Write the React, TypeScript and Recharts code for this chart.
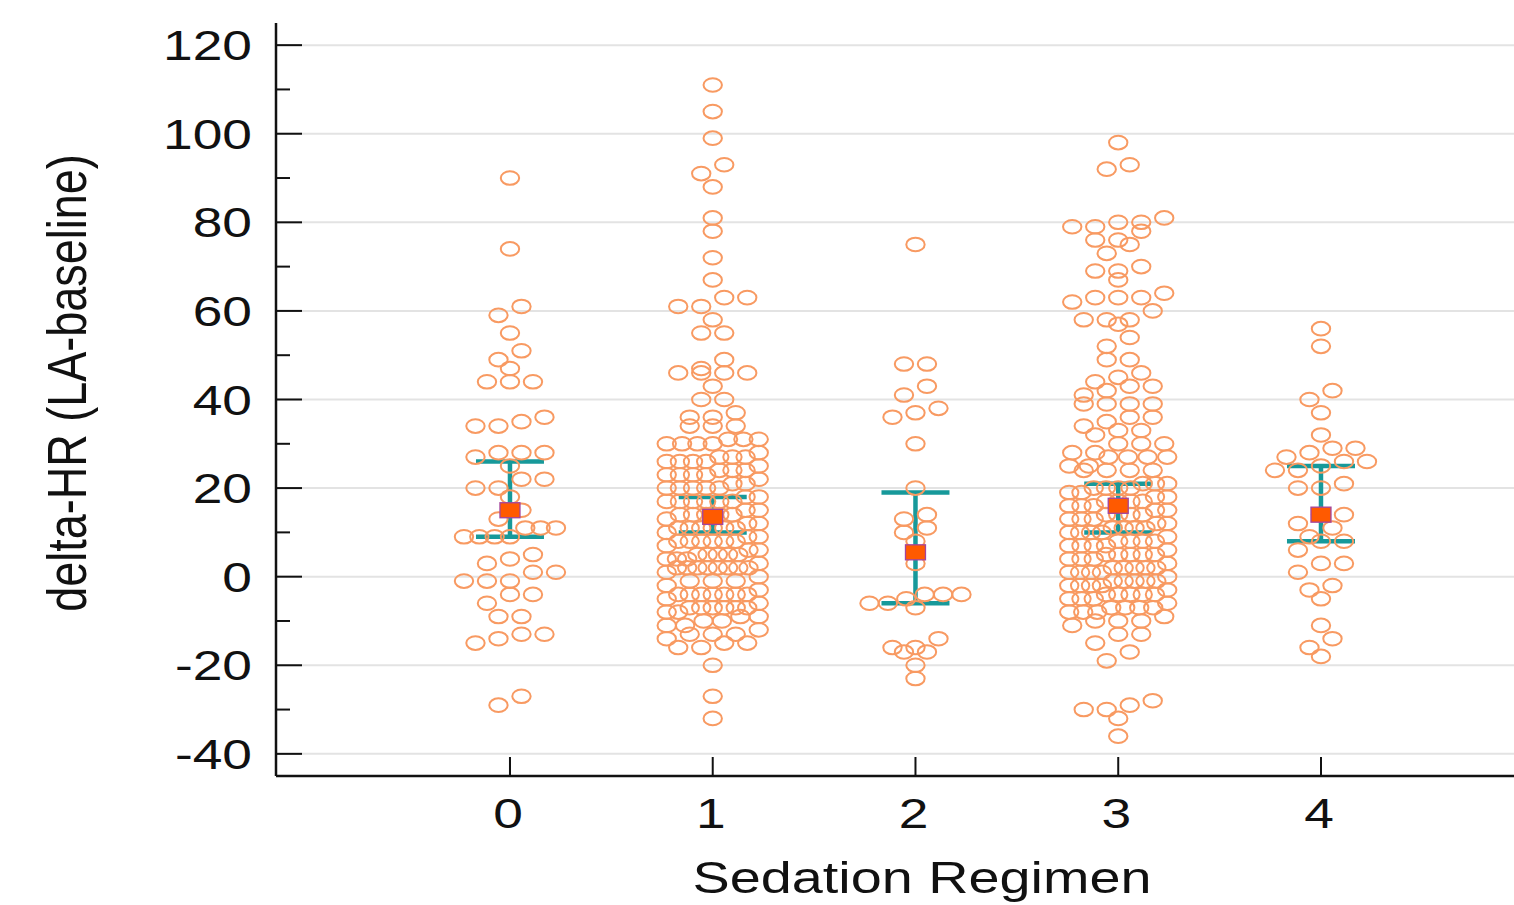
import React from "react";
import { ScatterChart, Scatter, XAxis, YAxis, CartesianGrid, ErrorBar } from "recharts";

const groups = [0, 1, 2, 3, 4];

// delta-HR values, one list per sedation regimen
const group0 = [90, 74, 61, 59, 55, 51, 49, 47, 44, 44, 44, 36, 35, 34, 34, 28, 28, 28, 27, 25, 22, 22, 20, 20, 18, 15, 13, 11, 11, 11, 9, 9, 9, 9, 5, 4, 3, 1, 1, -1, -1, -1, -4, -4, -6, -9, -9, -13, -13, -14, -15, -27, -29];

const group1 = [
  111, 105, 99, 93, 91, 88, 81, 78, 72, 67, 63, 63, 61, 61, 58, 55, 55, 49, 47, 46, 46, 46, 46, 43, 40, 40, 37, 36, 36, 34, 34, 34,
  31, 31, 31, 30, 30, 30, 30,
  28, 27, 27, 27, 26, 26, 26, 26,
  25, 24, 24, 24, 23, 23, 23, 23,
  22, 21, 21, 20, 20, 20, 20, 20,
  18, 18, 17, 17, 17, 17, 17, 17,
  15, 15, 14, 14, 14, 14, 14, 13,
  12, 12, 11, 11, 11, 11, 11, 11, 10,
  9, 9, 8, 8, 8, 8, 8, 8, 7,
  6, 6, 5, 5, 5, 5, 5, 4, 4, 4,
  3, 2, 2, 2, 2, 2, 2, 2, 2, 1,
  0, -1, -1, -1, -2,
  -3, -4, -4, -4, -4, -4, -4, -4, -5,
  -6, -7, -7, -7, -7, -7, -7, -8, -8,
  -9, -9, -10, -10, -11, -11,
  -12, -13, -13, -13, -14,
  -15, -15, -16, -16,
  -20, -27, -32,
];

const group2 = [75, 48, 48, 43, 41, 38, 37, 36, 30, 20, 14, 13, 11, 10, 8, 3, -4, -4, -4, -5, -6, -6, -7, -14, -16, -16, -17, -17, -20, -23];

const group3 = [
  98, 93, 92, 81, 80, 80, 79, 79, 78, 76, 76, 75, 73, 70, 69, 69, 67, 64, 63, 63, 63, 62, 60, 58, 58, 58, 57, 54, 52, 49, 49, 46, 45, 44, 43, 43, 42, 41, 39, 39, 39, 39, 36, 36, 35, 34, 33, 33, 32, 30, 30, 30, 28, 28, 27, 27, 27, 27, 25, 25, 24, 24, 24, 24,
  21, 21, 21, 20, 20, 20, 20, 19, 19,
  18, 18, 17, 17, 17, 17, 16, 16, 16,
  15, 15, 14, 14, 14, 14, 13, 13, 13,
  12, 12, 11, 11, 11, 11, 10, 10, 10, 10,
  9, 8, 8, 8, 8, 7, 7, 7, 7,
  6, 5, 5, 5, 5, 5, 4, 4, 4,
  3, 2, 2, 2, 2, 2, 1, 1, 1, 1,
  0, -1, -1, -1, -1, -1, -2, -2, -2, -2,
  -3, -4, -4, -4, -4, -4, -5, -5, -5,
  -6, -7, -7, -7, -7, -8, -8, -8,
  -9, -10, -10, -10, -11,
  -13, -13, -15, -17, -19,
  -28, -29, -30, -30, -32, -36,
];

const group4 = [56, 52, 42, 40, 37, 32, 29, 29, 28, 27, 26, 26, 25, 24, 24, 21, 20, 20, 14, 14, 12, 11, 9, 8, 8, 6, 3, 3, 1, -2, -3, -5, -11, -14, -16, -18];

const medians = [15, 13.5, 5.5, 16, 14];
const lowerCI = [9, 10, -6, 10, 8];
const upperCI = [26, 18, 19, 21, 25];

const yTicks = [-40, -30, -20, -10, 0, 10, 20, 30, 40, 50, 60, 70, 80, 90, 100, 110, 120];
const yGrid = [-40, -20, 0, 20, 40, 60, 80, 100, 120];

// layout
const W = 1514;
const H = 905;
const LEFT = 276;
const TOP = 23;
const BOTTOM = 776;
const X_DOMAIN: [number, number] = [-1.154, 4.952];
const Y_DOMAIN: [number, number] = [-45, 125];
const STRETCH = 1.24;
const FONT = '"Liberation Sans", Arial, sans-serif';
const DOT = "#f89a62";
const TEAL = "#17999a";

const pxPerCat = (W - LEFT) / (X_DOMAIN[1] - X_DOMAIN[0]);

// simple dot-plot layout: values close together share a row, spread round the category
function swarm(values: number[], group: number, maxWidth: number) {
  const sorted = [...values].sort((a, b) => b - a);
  const rows: number[][] = [];
  for (const v of sorted) {
    const row = rows[rows.length - 1];
    if (row && row[0] - v <= 2.5) row.push(v);
    else rows.push([v]);
  }
  const pts: { x: number; y: number }[] = [];
  rows.forEach((row) => {
    const asc = [...row].sort((a, b) => a - b);
    const n = asc.length;
    const step = n > 1 ? Math.min(23, maxWidth / (n - 1)) : 0;
    asc.forEach((v, i) => {
      pts.push({ x: group + ((i - (n - 1) / 2) * step) / pxPerCat, y: v });
    });
  });
  return pts;
}

const allGroups = [group0, group1, group2, group3, group4];
const dots = allGroups.flatMap((vals, i) => swarm(vals, groups[i], i === 3 ? 98 : 92));

const summary = groups.map((g, i) => ({
  x: g,
  y: medians[i],
  err: [medians[i] - lowerCI[i], upperCI[i] - medians[i]],
}));

const Ring = (props: any) => {
  const { cx, cy } = props;
  return <ellipse cx={cx} cy={cy} rx={9.2} ry={6.8} fill="none" stroke={DOT} strokeWidth={2} />;
};

const MedianBox = (props: any) => {
  const { cx, cy } = props;
  return <rect x={cx - 10} y={cy - 7.5} width={20} height={15} fill="#ff5a00" stroke="#a4449c" strokeWidth={1.3} />;
};

const YTick = (props: any) => {
  const { y, payload } = props;
  const major = payload.value % 20 === 0;
  return (
    <g>
      <line x1={LEFT} x2={LEFT + (major ? 26 : 14)} y1={y} y2={y} stroke="#111" strokeWidth={2} />
      {major && (
        <text
          transform={`translate(${LEFT - 24},${y + 15}) scale(${STRETCH},1)`}
          textAnchor="end"
          fontFamily={FONT}
          fontSize={43}
          fill="#111"
        >
          {payload.value}
        </text>
      )}
    </g>
  );
};

const XTick = (props: any) => {
  const { x, payload } = props;
  return (
    <g>
      <line x1={x} x2={x} y1={BOTTOM} y2={BOTTOM - 19} stroke="#111" strokeWidth={2} />
      <text
        transform={`translate(${x - 2},${BOTTOM + 52}) scale(${STRETCH},1)`}
        textAnchor="middle"
        fontFamily={FONT}
        fontSize={43}
        fill="#111"
      >
        {payload.value}
      </text>
    </g>
  );
};

export default function App() {
  return (
    <div style={{ position: "relative", width: W, height: H, background: "#fff" }}>
      <style>{"body{margin:0}"}</style>
      <ScatterChart width={W} height={H} margin={{ top: TOP, right: 0, left: 0, bottom: 0 }}>
        <CartesianGrid vertical={false} horizontalValues={yGrid} stroke="#e3e3e3" strokeWidth={2} />
        <XAxis
          type="number"
          dataKey="x"
          domain={X_DOMAIN}
          ticks={groups}
          allowDataOverflow
          height={H - BOTTOM}
          axisLine={{ stroke: "#111", strokeWidth: 2.5 }}
          tickLine={false}
          tick={(p: any) => <XTick {...p} />}
        />
        <YAxis
          type="number"
          dataKey="y"
          domain={Y_DOMAIN}
          ticks={yTicks}
          interval={0}
          allowDataOverflow
          width={LEFT}
          axisLine={{ stroke: "#111", strokeWidth: 2.5 }}
          tickLine={false}
          tick={(p: any) => <YTick {...p} />}
        />
        <Scatter data={dots} shape={<Ring />} isAnimationActive={false} />
        <Scatter data={summary} shape={<MedianBox />} isAnimationActive={false}>
          <ErrorBar dataKey="err" direction="y" width={34} stroke={TEAL} strokeWidth={4.5} />
        </Scatter>
      </ScatterChart>
      <svg width={W} height={H} style={{ position: "absolute", left: 0, top: 0, pointerEvents: "none" }}>
        <text
          transform={`translate(922,893) scale(${STRETCH},1)`}
          textAnchor="middle"
          fontFamily={FONT}
          fontSize={45}
          fill="#111"
        >
          Sedation Regimen
        </text>
        <text
          transform={`translate(86,383) scale(${STRETCH},1) rotate(-90)`}
          textAnchor="middle"
          fontFamily={FONT}
          fontSize={45}
          fill="#111"
        >
          delta-HR (LA-baseline)
        </text>
      </svg>
    </div>
  );
}
